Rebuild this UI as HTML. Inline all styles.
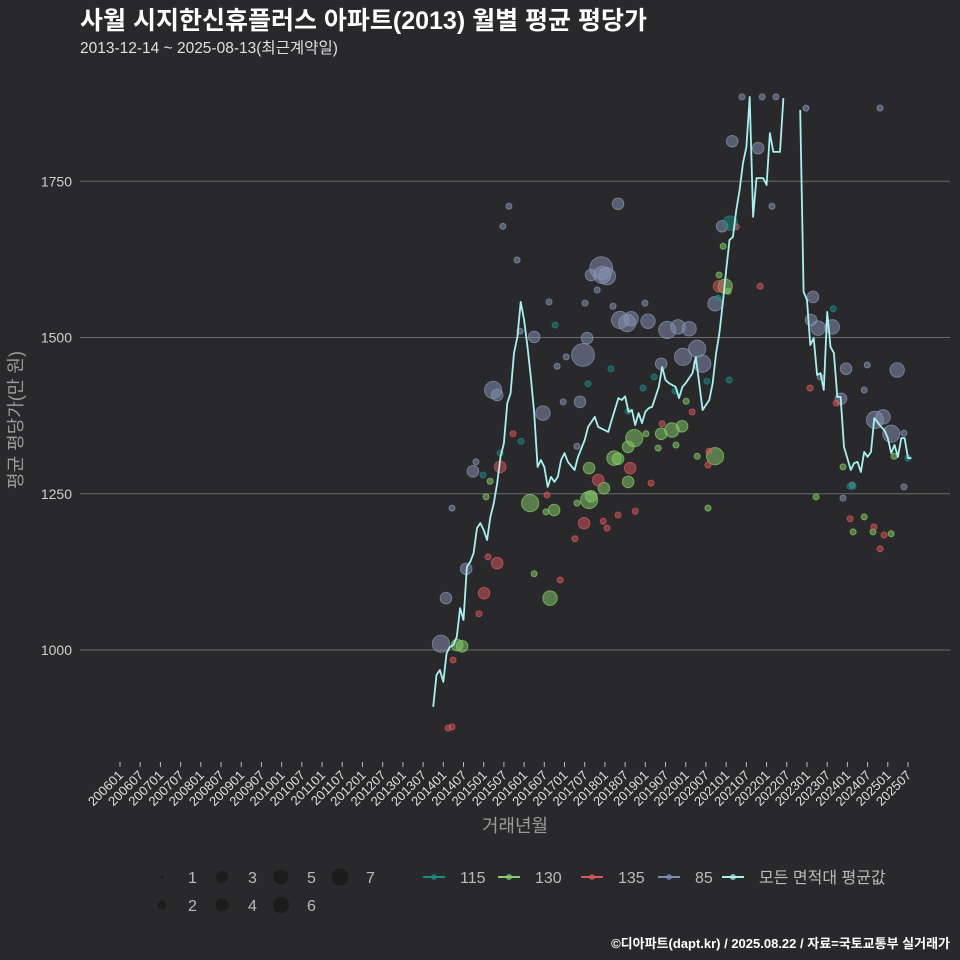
<!DOCTYPE html>
<html><head><meta charset="utf-8">
<style>
html,body{margin:0;padding:0;background:#29292b;}
svg{display:block;font-family:"Liberation Sans","Noto Sans CJK KR",sans-serif;}
</style></head>
<body>
<svg id="chart" width="960" height="960" viewBox="0 0 960 960" xmlns="http://www.w3.org/2000/svg">
<rect x="0" y="0" width="960" height="960" fill="#29292b"/>
<text x="80" y="29" font-size="25" font-weight="bold" fill="#ffffff">사월 시지한신휴플러스 아파트(2013) 월별 평균 평당가</text>
<text x="80" y="53" font-size="15.5" fill="#e0e0e0">2013-12-14 ~ 2025-08-13(최근계약일)</text>
<g id="grid"></g>
<g id="yticks"></g>
<g id="xticks"></g>
<g id="bubbles"></g>
<g id="line"></g>
<text x="22" y="420" font-size="18" fill="#9a9a9a" text-anchor="middle" transform="rotate(-90 22 420)">평균 평당가(만 원)</text>
<text x="515" y="832" font-size="18" fill="#9a9a9a" text-anchor="middle">거래년월</text>
<g id="legend"></g>
<text x="950" y="948" font-size="13" font-weight="bold" fill="#ffffff" text-anchor="end">©디아파트(dapt.kr) / 2025.08.22 / 자료=국토교통부 실거래가</text>
</svg>
<script>
// months since 2006-01 (0 = 200601)
const yTicks = [1000, 1250, 1500, 1750];
const lineMonths = [
93,94,95,96,97,98,99,100,101,102,103,104,105,106,107,108,109,110,111,112,113,114,115,116,117,118,119,120,121,122,123,124,125,126,127,128,129,130,
131,132,133,135,136,138,139,141,142,
145,146,148,149,150,151,152,153,154,155,156,157,158,160,161,162,163,165,166,167,168,170,171,172,173,175,176,177,178,179,180,181,182,183,184,185,186,187,188,189,191,192,193,194,196,197,
199,
202,203,204,205,206,207,208,209,210,211,212,213,214,215,217,218,219,220,221,222,223,224,226,227,228,229,230,231,232,233,234,235];
const lineValues = [
909,960,968,949,995,1005,1008,1021,1067,1048,1133,1141,1155,1195,1203,1192,1176,1213,1235,1267,1309,1331,1395,1411,1475,1501,1557,1528,1485,1437,1379,1293,1304,1293,1261,1277,1269,1277,
1304,1315,1301,1288,1309,1336,1357,1373,1357,
1349,1368,1403,1400,1406,1381,1384,1360,1379,1363,1381,1387,1389,1421,1453,1432,1427,1421,1403,1421,1427,1443,1469,1427,1384,1400,1427,1475,1507,1555,1608,1656,1661,1704,1736,1779,1805,1885,1693,1755,1755,1744,1827,1797,1797,1883,
null,
1864,1573,1560,1488,1499,1440,1443,1416,1541,1485,1475,1405,1405,1325,1288,1299,1301,1285,1317,1309,1317,1371,1357,1352,1339,1315,1328,1309,1339,1339,1307,1307];

// bubbles: [month, value, count]
const pts85 = [[95.3,1010,5],[96.8,1083,3],[98.6,1227,1],[102.8,1130,3],[104.8,1286,3],[105.7,1301,1],[110.8,1416,5],[112,1408,3],[113.7,1678,1],[115.5,1710,1],[117.9,1624,1],[118.8,1510,1],[123,1501,3],[125.6,1379,4],[127.4,1557,1],[129.8,1454,1],[132.5,1469,1],[131.6,1397,1],[135.7,1326,1],[136.6,1397,3],[137.5,1472,7],[138.7,1499,3],[138.1,1555,1],[139.9,1600,3],[141.7,1576,1],[143.2,1600,5],[144.6,1598,5],[142.9,1611,7],[146.4,1550,1],[147.9,1714,3],[148.5,1528,5],[150.6,1523,5],[151.8,1530,4],[155.9,1555,1],[156.8,1526,4],[160.7,1458,3],[162.5,1512,5],[165.7,1517,4],[167.2,1469,5],[169,1514,4],[171.4,1482,5],[172.9,1458,5],[176.7,1554,4],[178.8,1678,3],[181.8,1814,3],[184.7,1885,1],[189.5,1803,3],[190.7,1885,1],[193.6,1710,1],[194.8,1885,1],[203.7,1867,1],[205.8,1565,3],[205.2,1528,3],[207.3,1515,4],[211.5,1517,4],[215.6,1450,3],[214.1,1402,3],[207.9,1437,1],[221.9,1456,1],[221,1416,1],[224.2,1368,5],[226.6,1373,4],[229,1346,5],[230.8,1448,4],[232.8,1347,1],[232.8,1261,1],[225.7,1867,1],[214.7,1243,1],[217.4,1264,1]];
const pts115 = [[107.8,1280,1],[112.9,1315,1],[119.1,1334,1],[129.2,1520,1],[139,1426,1],[145.8,1450,1],[150.9,1382,1],[158.6,1437,1],[164.8,1414,1],[174.3,1430,1],[177.6,1563,1],[181.2,1683,4],[180.9,1432,1],[211.8,1546,1],[216.8,1262,1],[217.7,1262,1],[234,1307,1],[155.3,1419,1]];
const pts130 = [[100.1,1008,3],[101.6,1006,3],[108.7,1245,1],[109.9,1270,1],[121.8,1235,5],[128.9,1224,3],[127.7,1083,4],[126.5,1221,1],[123,1122,1],[135.7,1235,1],[139.3,1240,5],[139.9,1246,3],[139.3,1291,3],[143.7,1259,3],[146.7,1307,4],[147.9,1306,3],[150.9,1325,3],[150.9,1269,3],[152.7,1339,5],[156.2,1346,1],[159.8,1323,1],[160.7,1346,3],[163.9,1352,4],[166.9,1358,3],[165.1,1328,1],[168.1,1398,1],[171.4,1310,1],[174.6,1227,1],[176.7,1310,5],[179.7,1582,4],[180.6,1574,1],[179.1,1646,1],[177.9,1600,1],[206.7,1245,1],[214.7,1293,1],[217.7,1189,1],[221,1213,1],[223.6,1189,1],[229,1186,1],[229.9,1310,1]];
const pts135 = [[97.4,875,1],[98.6,877,1],[98.9,984,1],[108.1,1091,3],[112,1139,3],[109.3,1149,1],[106.6,1058,1],[112.9,1293,3],[116.7,1346,1],[126.8,1248,1],[130.7,1112,1],[135.1,1178,1],[137.8,1203,3],[142,1272,3],[143.5,1206,1],[144.6,1195,1],[147.9,1216,1],[151.5,1291,3],[153,1222,1],[157.7,1267,1],[161,1362,1],[169.9,1381,1],[174.6,1296,1],[174.9,1318,1],[177.9,1582,3],[183,1677,1],[190.1,1582,1],[204.9,1419,1],[212.7,1395,1],[216.8,1210,1],[223.9,1197,1],[226.9,1184,1],[225.7,1162,1]];
const sizeLabels = [1,2,3,4,5,6,7];
const seriesNames = ["115","130","135","85","모든 면적대 평균값"];

const NS = "http://www.w3.org/2000/svg";
const PX0 = 120, PXM = 788/234;
const xS = m => PX0 + m*PXM;
const yS = v => 650 - (v-1000)*0.625;
const rS = s => 3 + (s-1)*1.4;
function mk(tag, attrs, parent){const e=document.createElementNS(NS,tag);for(const k in attrs)e.setAttribute(k,attrs[k]);parent.appendChild(e);return e;}

const grid=document.getElementById('grid'), yt=document.getElementById('yticks');
yTicks.forEach(v=>{
  const l=mk('line',{x1:80,x2:950,y1:yS(v),y2:yS(v),stroke:'#6a6a6a','stroke-width':1},grid);
  
  
  const t=mk('text',{x:72,y:yS(v)+5,'text-anchor':'end','font-size':14,fill:'#cfcfcf'},yt);
  t.textContent=v;
  
  
});
const xt=document.getElementById('xticks');
for(let m=0;m<=234;m+=6){
  const yr=2006+Math.floor(m/12), mo=(m%12)+1;
  const lab=''+yr+(mo<10?'0':'')+mo;
  const x=xS(m);
  const tk=mk('line',{x1:x,x2:x,y1:762,y2:767,stroke:'#bbbbbb','stroke-width':1},xt);
  
  
  const t=mk('text',{x:x+4,y:776,'text-anchor':'end','font-size':13,fill:'#e0e0e0',transform:`rotate(-45 ${x+4} 776)`},xt);
  t.textContent=lab;
  
  
}
const bg=document.getElementById('bubbles');
const groups=[[pts85,'#8794b4','85'],[pts130,'#86cf6a','130'],[pts135,'#d9585c','135'],[pts115,'#1d8a84','115']];
groups.forEach(([arr,col,nm])=>{
  arr.forEach(p=>{
    const c=mk('circle',{cx:xS(p[0]),cy:yS(p[1]),r:rS(p[2]),fill:col,'fill-opacity':0.5,stroke:col,'stroke-opacity':0.7,'stroke-width':1},bg);
    
    
  });
});
const lg=document.getElementById('line');
let d='',pen=false;
lineMonths.forEach((m,i)=>{
  const v=lineValues[i];
  if(v===null){pen=false;return;}
  d+=(pen?'L':'M')+xS(m).toFixed(1)+','+yS(v).toFixed(1);
  pen=true;
});
const path=mk('path',{d:d,fill:'none',stroke:'#a9f0ee','stroke-width':1.8,'stroke-linejoin':'round'},lg);



// legend
const leg=document.getElementById('legend');
const legR=[1.5,4.5,6,6.5,7.5,8,8.5];
const legPos=[[162,877],[162,905],[222,877],[222,905],[281,877],[281,905],[340,877]];
sizeLabels.forEach((s,i)=>{
  const [x,y]=legPos[i];
  const c=mk('circle',{cx:x,cy:y,r:legR[i],fill:'#1c1c1c'},leg);
  
  
  const t=mk('text',{x:x+26,y:y+6,'font-size':16,fill:'#bbbbbb'},leg);
  t.textContent=s;
  
  
});
const legCols=['#1d8a84','#86cf6a','#d9585c','#7d8db0','#a9f0ee'];
const legX=[423,498,581,658,722];
seriesNames.forEach((nm,i)=>{
  const x=legX[i], y=877;
  const l=mk('line',{x1:x,x2:x+22,y1:y,y2:y,stroke:legCols[i],'stroke-width':2},leg);
  
  
  const c=mk('circle',{cx:x+11,cy:y,r:3,fill:legCols[i],'fill-opacity':0.7},leg);
  
  
  const t=mk('text',{x:x+37,y:y+6,'font-size':16,fill:'#bbbbbb'},leg);
  t.textContent=nm;
  
  
});
</script>
</body></html>
